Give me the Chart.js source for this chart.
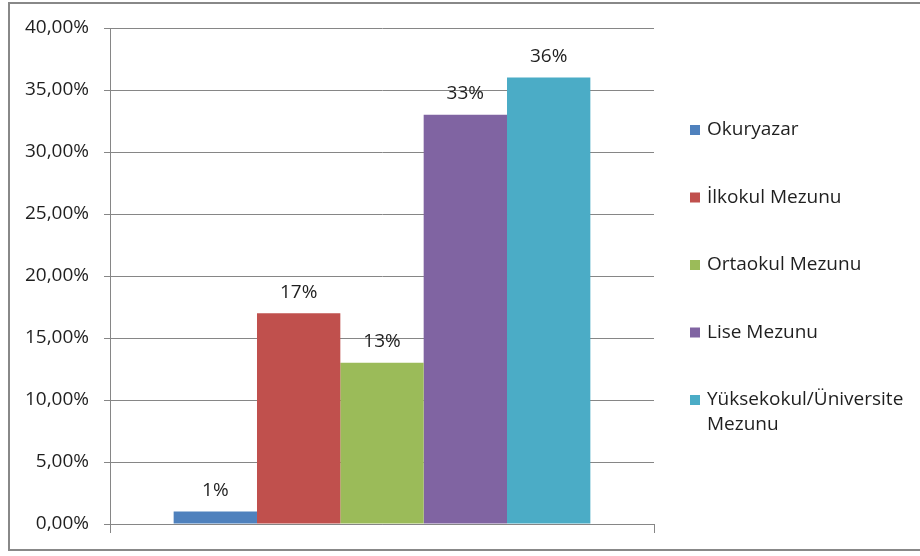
<!DOCTYPE html>
<html>
<head>
<meta charset="utf-8">
<script src="https://cdn.jsdelivr.net/npm/chart.js@4/dist/chart.umd.min.js"></script>
<style>
    html, body { margin: 0; padding: 0; background: #fff; overflow: hidden; }
    #wrap  { position: relative; width: 920px; height: 556px; }
    #frame { position: absolute; left: 8px; top: 2px; width: 940px; height: 549px; border: 2px solid #888; box-sizing: border-box; pointer-events: none; }
</style>
</head>
<body>
<div id="wrap">
    <canvas id="chart" width="920" height="556"></canvas>
    <div id="frame"></div>
</div>
<script>
// chart data
const categories   = [''];
const seriesNames  = ['Okuryazar', 'İlkokul Mezunu', 'Ortaokul Mezunu', 'Lise Mezunu', 'Yüksekokul/Üniversite Mezunu'];
const legendLines  = [['Okuryazar'], ['İlkokul Mezunu'], ['Ortaokul Mezunu'], ['Lise Mezunu'], ['Yüksekokul/Üniversite', 'Mezunu']];
const seriesValues = [1, 17, 13, 33, 36];
const yTicks       = [0, 5, 10, 15, 20, 25, 30, 35, 40];
const colors       = ['#4F81BD', '#C0504D', '#9BBB59', '#8064A2', '#4BACC6'];

const FONT = '"Open Sans", "Liberation Sans", sans-serif';
const TEXT = '#1f1f1f';

// value labels above bars
const barLabels = {
    id: 'barLabels',
    afterDatasetsDraw(chart) {
        const ctx = chart.ctx;
        ctx.save();
        ctx.font = `19px ${FONT}`;
        ctx.fillStyle = TEXT;
        ctx.textAlign = 'center';
        ctx.textBaseline = 'middle';
        chart.data.datasets.forEach((ds, i) => {
            const bar = chart.getDatasetMeta(i).data[0];
            ctx.fillText(`${ds.data[0]}%`, bar.x, bar.y - 21);
        });
        ctx.restore();
    }
};

// legend on the right, with wrapped last entry
const sideLegend = {
    id: 'sideLegend',
    afterDraw(chart) {
        const ctx = chart.ctx;
        ctx.save();
        ctx.font = `19px ${FONT}`;
        ctx.textBaseline = 'middle';
        ctx.textAlign = 'left';
        let y = 130;
        legendLines.forEach((lines, i) => {
            ctx.fillStyle = colors[i];
            ctx.fillRect(690, y - 5, 10, 10);
            ctx.fillStyle = TEXT;
            lines.forEach((l, j) => ctx.fillText(l, 707, y + j * 25));
            y += 67.5;
        });
        ctx.restore();
    }
};

new Chart(document.getElementById('chart'), {
    type: 'bar',
    data: {
        labels: categories,
        datasets: seriesNames.map((name, i) => ({
            label: name,
            data: [seriesValues[i]],
            backgroundColor: colors[i],
            borderWidth: 0,
            barPercentage: 1,
            categoryPercentage: 0.766
        }))
    },
    options: {
        responsive: false,
        animation: false,
        layout: { padding: { top: 28, right: 266, left: 0, bottom: 0 } },
        plugins: { legend: { display: false }, tooltip: { enabled: false } },
        scales: {
            x: {
                ticks: { display: false },
                grid: { drawOnChartArea: false, drawTicks: true, tickLength: 9, color: '#868686' },
                border: { color: '#868686' },
                afterFit: s => { s.height = 32; }
            },
            y: {
                min: yTicks[0],
                max: yTicks[yTicks.length - 1],
                afterBuildTicks: s => { s.ticks = yTicks.map(v => ({ value: v })); },
                ticks: {
                    color: TEXT,
                    padding: 15,
                    font: { family: FONT, size: 19 },
                    callback: v => v.toFixed(2).replace('.', ',') + '%'
                },
                grid: { color: '#868686', tickLength: 6 },
                border: { color: '#868686' },
                afterFit: s => { s.width = 110; }
            }
        }
    },
    plugins: [barLabels, sideLegend]
});
</script>
</body>
</html>
